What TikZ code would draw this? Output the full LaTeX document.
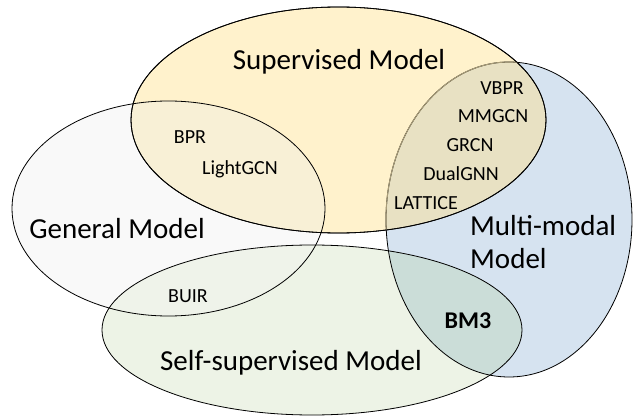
\documentclass[tikz,border=0pt]{standalone}
\usepackage{fontspec}
\setmainfont{Carlito}
\definecolor{gencol}{HTML}{F9F9F9}
\definecolor{supcol}{HTML}{FFF2CC}
\definecolor{mmcol}{HTML}{D6E3F0}
\definecolor{sscol}{HTML}{EDF3E6}
\definecolor{gsupcol}{HTML}{F8F0D6}
\definecolor{smmcol}{HTML}{E8E1C3}
\definecolor{ssmmcol}{HTML}{CBDDD8}
\definecolor{gsscol}{HTML}{EFF3EA}
\definecolor{fadeline}{HTML}{A89C78}
\begin{document}
\begin{tikzpicture}[x=1pt,y=-1pt,
  rim/.style={draw=black, line width=0.8pt},
  biglabel/.style={font=\fontsize{29}{34}\selectfont, inner sep=0pt, anchor=base},
  smalllabel/.style={font=\fontsize{20}{24}\selectfont, inner sep=0pt, anchor=base},
]
\useasboundingbox (0,0) rectangle (641,420);
\fill[white] (0,0) rectangle (641,420);
\def\genEll{(168.5,208.5) ellipse [x radius=156.5, y radius=107.5]}
\def\supEll{(338.5,120) ellipse [x radius=207.5, y radius=113]}
\def\mmEll{(509,219.5) ellipse [x radius=123, y radius=157.5]}
\def\ssEll{(312,330) ellipse [x radius=210, y radius=85]}
% base fills
\fill[gencol] \genEll;
\fill[supcol] \supEll;
\fill[mmcol] \mmEll;
\fill[sscol] \ssEll;
% overlaps
\begin{scope} \clip \genEll; \fill[gsupcol] \supEll; \end{scope}
\begin{scope} \clip \mmEll; \fill[smmcol] \supEll; \end{scope}
\begin{scope} \clip \mmEll; \fill[ssmmcol] \ssEll; \end{scope}
\begin{scope} \clip \genEll; \fill[gsscol] \ssEll; \end{scope}
% outlines
\draw[rim] \genEll;
\draw[rim] \mmEll;
\draw[rim] \ssEll;
\draw[rim] \supEll;
\begin{scope} \clip \supEll; \draw[draw=fadeline, line width=1pt] \mmEll; \end{scope}
\draw[rim] \supEll;
% labels
\node[biglabel] (sup) at (339,70) {Supervised Model};
\node[biglabel] (gen) at (117,238) {General Model};
\node[biglabel] (ss) at (291,370) {Self-supervised Model};
\node[biglabel, anchor=base west] (mm1) at (470,235) {Multi-modal};
\node[biglabel, anchor=base west] (mm2) at (470,268) {Model};
\node[smalllabel] (vbpr) at (502,95) {VBPR};
\node[smalllabel] (mmgcn) at (493,123) {MMGCN};
\node[smalllabel] (grcn) at (470,152) {GRCN};
\node[smalllabel] (dualgnn) at (461,180) {DualGNN};
\node[smalllabel] (lattice) at (426,210) {LATTICE};
\node[smalllabel] (bpr) at (190,143) {BPR};
\node[smalllabel] (lightgcn) at (240,175) {LightGCN};
\node[smalllabel] (buir) at (188,302) {BUIR};
\node[font=\fontsize{24}{28}\selectfont\bfseries, inner sep=0pt, anchor=base] (bm3) at (468,328) {BM3};
\end{tikzpicture}
\end{document}
